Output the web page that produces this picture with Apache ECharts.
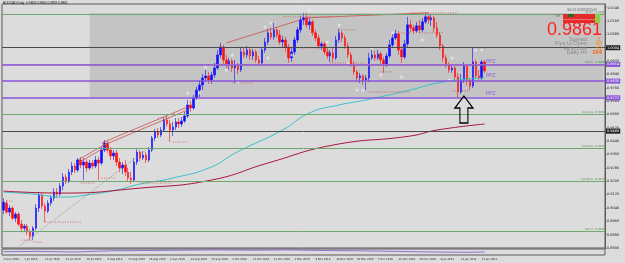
<!DOCTYPE html>
<html>
<head>
<meta charset="utf-8">
<script src="https://cdn.jsdelivr.net/npm/echarts@6/dist/echarts.min.js"></script>
<style>
html, body { margin: 0; padding: 0; background: #dcdcdc; }
#chart { width: 625px; height: 263px; }
</style>
</head>
<body>
<div id="chart"></div>
<script>
// AUDCAD daily, 22 Jun 2010 .. late Jan 2011  [open, close, low, high]
const ohlc = [
  [0.9027,0.9075,0.9003,0.9099],[0.9069,0.9015,0.9003,0.9087],[0.9015,0.9039,0.8991,0.9057],[0.9039,0.8979,0.8967,0.9051],
  [0.8979,0.9003,0.8955,0.9015],[0.9003,0.8943,0.8931,0.9015],[0.8943,0.8919,0.8895,0.8967],[0.8919,0.8931,0.8901,0.8943],
  [0.8931,0.8895,0.8877,0.8943],[0.8895,0.8871,0.8847,0.8913],[0.8871,0.8919,0.8847,0.8931],[0.8919,0.9039,0.8907,0.9063],
  [0.9039,0.9117,0.9015,0.9135],[0.9117,0.9051,0.9033,0.9129],[0.9051,0.9021,0.8955,0.9069],[0.9021,0.9069,0.9009,0.9087],
  [0.9069,0.9099,0.9051,0.9117],[0.9099,0.9135,0.9081,0.9159],[0.9135,0.9123,0.9099,0.9159],[0.9123,0.9171,0.9111,0.9189],
  [0.9171,0.9225,0.9147,0.9249],[0.9225,0.9201,0.9183,0.9243],[0.9201,0.9255,0.9189,0.9273],[0.9255,0.9291,0.9237,0.9315],
  [0.9291,0.9267,0.9249,0.9309],[0.9267,0.9327,0.9255,0.9339],[0.9327,0.9297,0.9279,0.9345],[0.9297,0.9315,0.9207,0.9339],
  [0.9315,0.9279,0.9255,0.9333],[0.9279,0.9309,0.9267,0.9327],[0.9309,0.9291,0.9273,0.9327],[0.9291,0.9327,0.9279,0.9351],
  [0.9327,0.9309,0.9207,0.9345],[0.9309,0.9387,0.9297,0.9405],[0.9387,0.9429,0.9375,0.9447],[0.9429,0.9387,0.9369,0.9441],
  [0.9387,0.9351,0.9327,0.9405],[0.9351,0.9369,0.9327,0.9387],[0.9369,0.9315,0.9291,0.9387],[0.9315,0.9279,0.9255,0.9339],
  [0.9279,0.9297,0.9243,0.9315],[0.9297,0.9255,0.9231,0.9327],[0.9255,0.9219,0.9201,0.9279],[0.9219,0.9207,0.9183,0.9255],
  [0.9207,0.9315,0.9195,0.9339],[0.9315,0.9375,0.9297,0.9393],[0.9375,0.9339,0.9321,0.9387],[0.9339,0.9357,0.9327,0.9381],
  [0.9357,0.9327,0.9309,0.9375],[0.9327,0.9387,0.9315,0.9405],[0.9387,0.9459,0.9375,0.9471],[0.9459,0.9495,0.9441,0.9513],
  [0.9495,0.9477,0.9459,0.9519],[0.9477,0.9507,0.9465,0.9525],[0.9507,0.9567,0.9495,0.9585],[0.9567,0.9543,0.9525,0.9591],
  [0.9543,0.9507,0.9435,0.9567],[0.9507,0.9525,0.9471,0.9555],[0.9525,0.9555,0.9507,0.9579],[0.9555,0.9543,0.9519,0.9579],
  [0.9543,0.9561,0.9525,0.9585],[0.9561,0.9591,0.9549,0.9615],[0.9591,0.9657,0.9579,0.9687],[0.9657,0.9639,0.9615,0.9681],
  [0.9639,0.9699,0.9627,0.9717],[0.9699,0.9747,0.9687,0.9765],[0.9747,0.9777,0.9705,0.9807],[0.9777,0.9819,0.9747,0.9843],
  [0.9819,0.9831,0.9795,0.9867],[0.9831,0.9807,0.9783,0.9855],[0.9807,0.9837,0.9783,0.9855],[0.9837,0.9879,0.9819,0.9909],
  [0.9879,0.9957,0.9867,0.9987],[0.9957,1.0005,0.9939,1.0029],[1.0005,0.9927,0.9903,1.0017],[0.9927,0.9903,0.9879,0.9957],
  [0.9903,0.9921,0.9867,0.9939],[0.9921,0.9879,0.9855,0.9933],[0.9879,0.9891,0.9789,0.9927],[0.9891,0.9867,0.9843,0.9909],
  [0.9867,0.9975,0.9855,1.0005],[0.9975,0.9957,0.9939,0.9999],[0.9957,0.9987,0.9939,1.0011],[0.9987,0.9951,0.9927,1.0005],
  [0.9951,0.9975,0.9927,0.9993],[0.9975,0.9927,0.9909,0.9987],[0.9927,0.9909,0.9891,0.9951],[0.9909,0.9987,0.9897,1.0005],
  [0.9987,1.0035,0.9969,1.0059],[1.0035,1.0089,1.0017,1.0113],[1.0089,1.0065,1.0047,1.0119],[1.0065,1.0107,1.0047,1.0149],
  [1.0107,1.0077,1.0059,1.0125],[1.0077,1.0035,1.0017,1.0107],[1.0035,1.0047,0.9999,1.0071],[1.0047,1.0005,0.9975,1.0065],
  [1.0005,0.9939,0.9909,1.0023],[0.9939,0.9975,0.9915,1.0005],[0.9975,1.0047,0.9957,1.0065],[1.0047,1.0107,1.0029,1.0125],
  [1.0107,1.0167,1.0089,1.0191],[1.0167,1.0179,1.0137,1.0209],[1.0179,1.0137,1.0119,1.0209],[1.0137,1.0155,1.0107,1.0179],
  [1.0155,1.0089,1.0071,1.0167],[1.0089,1.0059,1.0041,1.0107],[1.0059,1.0011,0.9993,1.0077],[1.0011,1.0023,0.9987,1.0035],
  [1.0023,0.9975,0.9957,1.0035],[0.9975,0.9951,0.9933,0.9999],[0.9951,0.9969,0.9915,0.9987],[0.9969,0.9939,0.9915,0.9999],
  [0.9939,1.0047,0.9927,1.0071],[1.0047,1.0089,1.0029,1.0113],[1.0089,1.0059,1.0035,1.0101],[1.0059,1.0011,0.9993,1.0077],
  [1.0011,0.9957,0.9939,1.0029],[0.9957,0.9903,0.9885,0.9975],[0.9903,0.9855,0.9837,0.9921],[0.9855,0.9819,0.9801,0.9867],
  [0.9819,0.9831,0.9789,0.9849],[0.9831,0.9807,0.9777,0.9843],[0.9807,0.9819,0.9747,0.9837],[0.9819,0.9939,0.9795,0.9969],
  [0.9939,0.9957,0.9927,0.9987],[0.9957,0.9939,0.9921,0.9981],[0.9939,0.9963,0.9927,0.9987],[0.9963,0.9927,0.9903,0.9975],
  [0.9927,0.9903,0.9849,0.9945],[0.9903,0.9951,0.9885,0.9969],[0.9951,1.0017,0.9939,1.0047],[1.0017,1.0059,0.9999,1.0083],
  [1.0059,1.0083,1.0047,1.0107],[1.0083,0.9987,0.9957,1.0101],[0.9987,0.9945,0.9909,1.0011],[0.9945,1.0023,0.9933,1.0047],
  [1.0023,1.0137,1.0005,1.0185],[1.0137,1.0119,1.0095,1.0167],[1.0119,1.0101,1.0083,1.0137],[1.0101,1.0131,1.0089,1.0155],
  [1.0131,1.0107,1.0089,1.0167],[1.0107,1.0155,1.0095,1.0179],[1.0155,1.0185,1.0143,1.0209],[1.0185,1.0167,1.0143,1.0209],
  [1.0167,1.0179,1.0131,1.0197],[1.0179,1.0119,1.0095,1.0191],[1.0119,1.0077,1.0059,1.0155],[1.0077,1.0011,0.9987,1.0095],
  [1.0011,0.9939,0.9915,1.0023],[0.9939,0.9897,0.9879,0.9957],[0.9897,0.9867,0.9849,0.9915],[0.9867,0.9879,0.9849,0.9897],
  [0.9879,0.9825,0.9807,0.9891],[0.9825,0.9735,0.9699,0.9849],[0.9735,0.9807,0.9723,0.9843],[0.9807,0.9891,0.9789,0.9915],
  [0.9891,0.9807,0.9777,0.9903],[0.9807,0.9771,0.9747,0.9819],[0.9771,0.9915,0.9759,0.9999],[0.9915,0.9831,0.9813,0.9927],
  [0.9831,0.9819,0.9807,0.9867],[0.9819,0.9915,0.9807,0.9927],[0.9915,0.9861,0.9849,0.9927]
];

// bottom date labels, one every 7 bars
const dateLabels = ['22 Jun 2010','1 Jul 2010','13 Jul 2010','22 Jul 2010','29 Jul 2010','9 Aug 2010','17 Aug 2010',
  '26 Aug 2010','3 Sep 2010','14 Sep 2010','23 Sep 2010','1 Oct 2010','12 Oct 2010','21 Oct 2010','1 Nov 2010',
  '9 Nov 2010','18 Nov 2010','26 Nov 2010','7 Dec 2010','16 Dec 2010','26 Dec 2010','4 Jan 2011','13 Jan 2011','21 Jan 2011'];

// moving averages  [bar, price]
const maFast = [[0,0.9135],[10,0.9123],[20,0.9105],[30,0.9123],[38,0.9147],[46,0.9183],[57,0.9219],[70,0.9285],
  [78,0.9369],[94,0.9507],[103,0.9609],[113,0.9657],[122,0.9687],[137,0.9747],[148,0.9795],[162,0.9819]];
const maSlow = [[0,0.9141],[20,0.9129],[46,0.9159],[70,0.9207],[89,0.9309],[111,0.9417],[137,0.9471],[146,0.9507],[162,0.9543]];

// trend lines  [[bar, price], [bar, price]]
const trendLines = [
  [[25,0.9327],[35,0.9429]], [[25,0.9309],[35,0.9411]],
  [[33,0.9429],[62,0.9645]], [[33,0.9411],[62,0.9627]],
  [[75,1.0029],[100,1.0167]], [[102,1.0179],[143,1.0209]]
];
const guideLine = [[5,0.8805],[48,0.9387]];

// short dotted high/low marks  [fromBar, toBar, price]
const dotMarks = [[1,3,0.9081],[6,10,0.8847],[10,13,0.8835],[14,26,0.8955],[26,31,0.9189],[33,38,0.9219],
  [46,57,0.9189],[52,56,0.9579],[57,62,0.9435],[77,84,0.9789],[94,111,1.0185],[100,106,0.9999],[110,122,0.9909],
  [113,119,1.0107],[123,137,0.9735],[127,131,0.9855],[134,137,1.0089],[137,153,1.0209],[140,148,1.0089],
  [151,157,0.9741],[159,163,0.9999]];

// fractal stars
const stars = [[62,0.9729],[66,0.9729],[68,0.9885],[75,0.9867],[77,0.9957],[79,0.9795],[88,1.0125],[89,0.9939],
  [90,1.0149],[97,0.9957],[103,1.0227],[109,1.0035],[113,1.0137],[116,0.9909],[119,0.9747],[121,0.9747],
  [124,0.9999],[127,0.9837],[131,1.0089],[134,0.9825],[141,1.0047],[150,0.9807],[151,0.9939],[159,0.9987],[161,0.9987]];

// horizontal levels
const greenLevels = [1.0208, 0.9890, 0.9573, 0.9375, 0.9177, 0.8854];
const greenNames = ['Up R2', 'Up R1', 'Up Long', 'Up Pivot', 'Up Short', 'Up S1'];
const darkLevels = [1.0004, 0.9489];
const ppzLevels = [0.9914, 0.9830, 0.9722];
const pinkLevels = [0.9872, 0.9854];
const lastPrice = 0.9861;
const boxTop = 1.0208, boxBottom = 0.9705, boxStart = 29;
const arrowAt = [155, 0.9630];

// small panel under the price
const oscLine = [[0,0.55],[12,0.6],[24,0.5],[36,0.7],[48,0.75],[60,0.8],[72,0.85],[84,0.8],[96,0.85],
  [108,0.75],[120,0.7],[132,0.6],[144,0.5],[156,0.45],[162,0.5]];

const nCats = 203;
const cats = Array.from({ length: nCats }, (_, i) => String(i));

const chart = echarts.init(document.getElementById('chart'));

const lines = [];
greenLevels.forEach((v, k) => lines.push({
  yAxis: v, lineStyle: { color: '#6fa86f', width: 1, type: 'solid' },
  label: { show: true, position: 'insideEndTop', formatter: greenNames[k] + ' - ' + v.toFixed(4),
    color: '#3f8f3f', fontSize: 2.6, distance: 0.5 }
}));
darkLevels.forEach(v => lines.push({
  yAxis: v, lineStyle: { color: '#4a4a4a', width: 1, type: 'solid' },
  label: { show: true, position: 'end', formatter: v.toFixed(4), backgroundColor: '#222',
    color: '#fff', fontSize: 3.5, padding: [0.5, 1], distance: 1 }
}));
pinkLevels.forEach(v => lines.push({
  yAxis: v, lineStyle: { color: '#c99a9a', width: 1, type: 'solid' }, label: { show: false }
}));
ppzLevels.forEach(v => lines.push({
  yAxis: v, lineStyle: { color: '#8a55d8', width: 1.5, type: 'solid' },
  label: { show: true, position: 'end', formatter: v.toFixed(4), backgroundColor: '#8a55d8',
    color: '#fff', fontSize: 3.5, padding: [0.5, 1], distance: 1 }
}));
lines.push({
  yAxis: lastPrice, lineStyle: { width: 0, opacity: 0 },
  label: { show: true, position: 'end', formatter: lastPrice.toFixed(4), backgroundColor: '#000',
    color: '#fff', fontSize: 3.5, padding: [0.5, 1], distance: 1 }
});

const points = ppzLevels.map(v => ({
  coord: [164, v], symbolSize: 0,
  label: { show: true, formatter: 'PPZ', color: '#8a55d8', fontSize: 5, position: 'inside' }
}));
points.push({
  coord: arrowAt, symbol: 'path://M9 0 L18 12 L13 12 L13 27 L5 27 L5 12 L0 12 Z',
  symbolSize: [18, 27], label: { show: false },
  itemStyle: { color: 'rgba(0,0,0,0)', borderColor: '#000', borderWidth: 1.3 }
});

const series = [
  {
    type: 'candlestick', xAxisIndex: 0, yAxisIndex: 0, data: ohlc, barWidth: 2,
    itemStyle: { color: '#1010ff', color0: '#ff1010', borderColor: '#1010ff', borderColor0: '#ff1010', borderWidth: 0.6 },
    markArea: {
      silent: true, itemStyle: { color: '#c4c4c4' },
      data: [[{ coord: [boxStart, boxTop] }, { coord: [nCats - 1, boxBottom] }]]
    },
    markLine: { silent: true, symbol: ['none', 'none'], animation: false, data: lines },
    markPoint: { silent: true, animation: false, data: points }
  },
  { type: 'line', data: maFast, smooth: true, symbol: 'none', lineStyle: { color: '#3cc0c8', width: 1 }, z: 3 },
  { type: 'line', data: maSlow, smooth: true, symbol: 'none', lineStyle: { color: '#a8163a', width: 1 }, z: 3 },
  { type: 'line', data: guideLine, symbol: 'none', lineStyle: { color: '#909090', width: 0.8, type: 'dotted' }, z: 3 },
  ...trendLines.map(seg => ({
    type: 'line', data: seg, symbol: 'none', lineStyle: { color: '#c85050', width: 0.8 }, z: 3
  })),
  ...dotMarks.map(d => ({
    type: 'line', data: [[d[0], d[2]], [d[1], d[2]]], symbol: 'none',
    lineStyle: { color: '#d04848', width: 0.8, type: [1, 1.5] }, z: 3
  })),
  {
    type: 'scatter', data: stars, symbol: 'path://M5 0 L6.2 3.8 L10 3.8 L7 6.2 L8.1 10 L5 7.6 L1.9 10 L3 6.2 L0 3.8 L3.8 3.8 Z',
    symbolSize: 4, itemStyle: { color: '#f4f4f4' }, z: 4
  },
  {
    type: 'line', xAxisIndex: 1, yAxisIndex: 1, data: oscLine, symbol: 'none',
    lineStyle: { color: '#9070d0', width: 1 }
  }
];

const infoFont = 'Liberation Sans';
chart.setOption({
  backgroundColor: '#dcdcdc',
  animation: false,
  textStyle: { fontFamily: 'DejaVu Sans' },
  grid: [
    { left: 2, right: 20, top: 4, height: 244, show: true, backgroundColor: '#dcdcdc', borderColor: '#5a5a5a', borderWidth: 1 },
    { left: 2, right: 20, top: 249, height: 6, show: true, backgroundColor: '#dcdcdc', borderColor: '#5a5a5a', borderWidth: 1 }
  ],
  xAxis: [
    { type: 'category', gridIndex: 0, data: cats, axisLine: { show: false }, axisTick: { show: false }, axisLabel: { show: false } },
    {
      type: 'category', gridIndex: 1, data: cats, axisLine: { show: false }, axisTick: { show: false },
      axisLabel: {
        fontSize: 2.6, color: '#222', margin: 2.5, align: 'left',
        interval: (i) => i % 7 === 0 && i / 7 < dateLabels.length,
        formatter: (v, i) => dateLabels[i / 7] || ''
      }
    }
  ],
  yAxis: [
    {
      type: 'value', gridIndex: 0, position: 'right', min: 0.88, max: 1.0262, interval: 0.008,
      splitLine: { show: false }, axisLine: { show: true, lineStyle: { color: '#5a5a5a' } },
      axisTick: { show: true, length: 1.5, lineStyle: { color: '#5a5a5a' } },
      axisLabel: { fontSize: 3.5, margin: 2, color: '#222', formatter: v => v.toFixed(4), showMaxLabel: false }
    },
    { type: 'value', gridIndex: 1, min: 0, max: 1, show: false }
  ],
  series: series,
  graphic: [
    { type: 'text', z: 100, left: 3, top: 2, style: { text: 'AUDCAD,Daily  0.9858 0.9864 0.9859 0.9861', fontSize: 3.2, fill: '#111' } },
    { type: 'text', z: 100, left: 567, top: 8.5, style: { text: 'GG: 0/1 10/1/25/20/15 0.9', fontSize: 2.6, fill: '#555' } },
    { type: 'text', z: 100, left: 555, top: 14, style: { text: 'SE', fontSize: 4, fill: '#777' } },
    { type: 'rect', z: 100, shape: { x: 563, y: 14, width: 37, height: 9 }, style: { fill: '#e42a2a' } },
    { type: 'rect', z: 101, shape: { x: 568, y: 14, width: 6, height: 3 }, style: { fill: '#1e6e1e' } },
    { type: 'rect', z: 101, shape: { x: 595, y: 14, width: 5, height: 9 }, style: { fill: '#8ad040' } },
    { type: 'rect', z: 101, shape: { x: 563, y: 19, width: 32, height: 1 }, style: { fill: '#f07070' } },
    { type: 'text', z: 100, right: 23, top: 21, style: { text: '0.9861', fontSize: 18, fill: '#ff2020', fontFamily: infoFont } },
    { type: 'text', z: 100, right: 38, top: 36.5, style: { text: 'Spread', fontSize: 5.6, fill: '#8a8a8a', fontFamily: infoFont } },
    { type: 'text', z: 100, right: 25, top: 36.5, style: { text: '3', fontSize: 5.6, fill: '#ff8a1a', fontFamily: infoFont } },
    { type: 'text', z: 100, right: 38, top: 40.8, style: { text: 'Pips to Open', fontSize: 5.6, fill: '#8a8a8a', fontFamily: infoFont } },
    { type: 'text', z: 100, right: 23, top: 40.8, style: { text: '-48', fontSize: 5.6, fill: '#ff8a1a', fontFamily: infoFont } },
    { type: 'text', z: 100, right: 38, top: 45.1, style: { text: 'Hi to Low', fontSize: 5.6, fill: '#8a8a8a', fontFamily: infoFont } },
    { type: 'text', z: 100, right: 23, top: 45.1, style: { text: '52', fontSize: 5.6, fill: '#ff8a1a', fontFamily: infoFont } },
    { type: 'text', z: 100, right: 38, top: 49.4, style: { text: 'Daily Av', fontSize: 5.6, fill: '#8a8a8a', fontFamily: infoFont } },
    { type: 'text', z: 100, right: 23, top: 49.4, style: { text: '104', fontSize: 5.8, fill: '#ff5a10', fontWeight: 'bold', fontFamily: infoFont } }
  ]
});
</script>
</body>
</html>
